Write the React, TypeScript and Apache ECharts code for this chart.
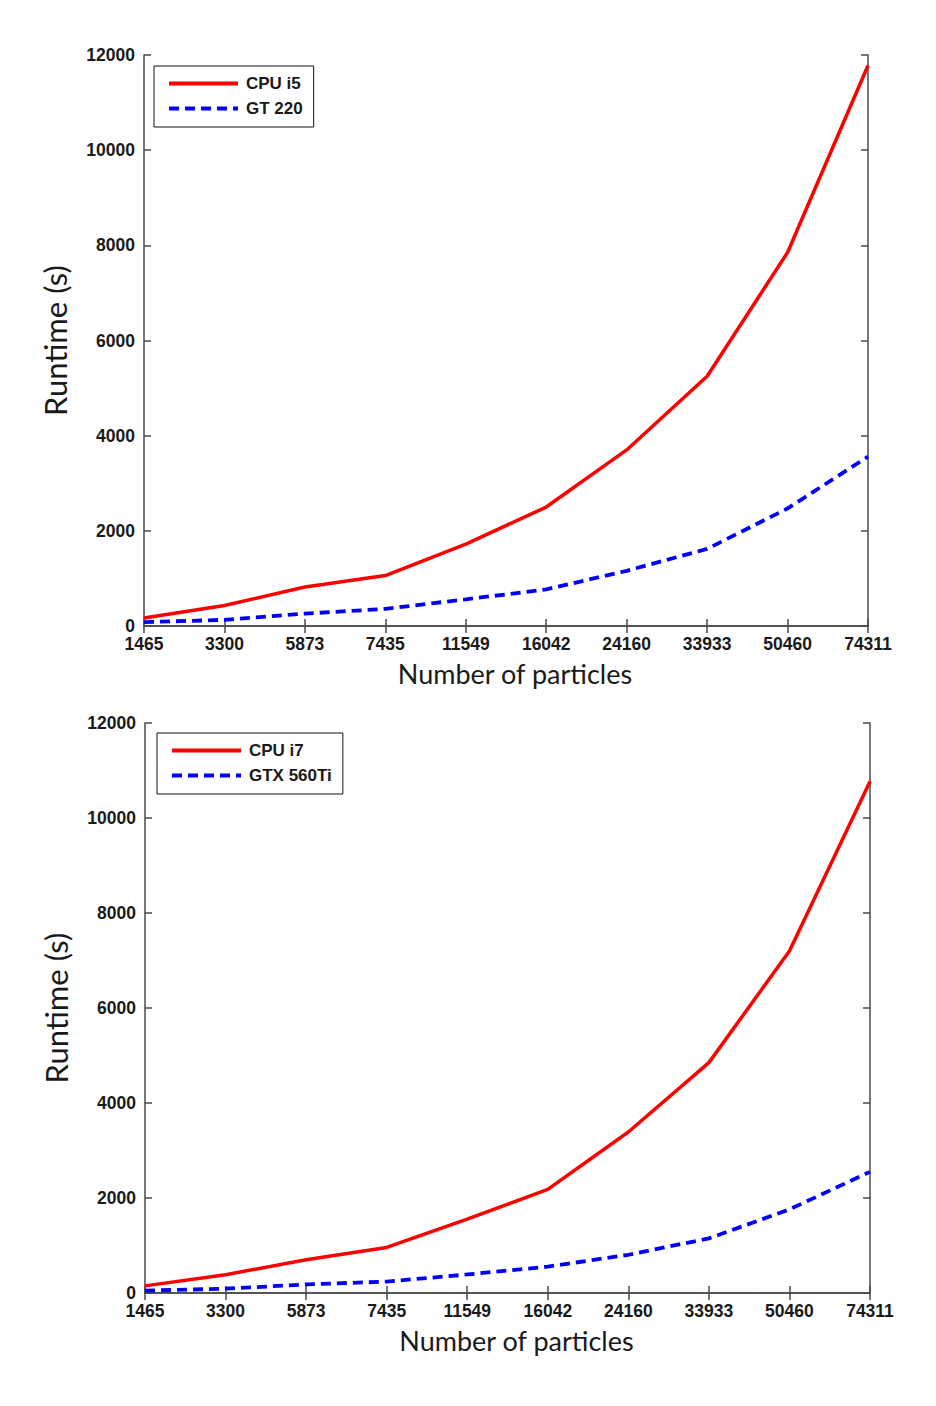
import React, { useEffect, useRef } from "react";
import * as echarts from "echarts";

// Particle counts along the horizontal axis (shared by both panels)
const particleCounts = ["1465", "3300", "5873", "7435", "11549", "16042", "24160", "33933", "50460", "74311"];

// Runtime in seconds, upper panel
const cpuI5Runtime = [170, 430, 820, 1060, 1720, 2500, 3700, 5250, 7850, 11780];
const gt220Runtime = [80, 130, 260, 360, 560, 770, 1160, 1620, 2470, 3560];

// Runtime in seconds, lower panel
const cpuI7Runtime = [150, 385, 700, 960, 1555, 2180, 3390, 4850, 7200, 10770];
const gtx560TiRuntime = [50, 90, 180, 240, 390, 555, 805, 1150, 1760, 2550];

// Runtime axis range
const runtimeMin = 0;
const runtimeMax = 12000;
const runtimeStep = 2000;

const AXIS_COLOR = "#4a4a4a";
const TICK_FONT = "'Liberation Sans', Arial, sans-serif";
const TITLE_FONT = "Lato, 'Open Sans', sans-serif";

const panels = [
  { top: 55, left: 144, width: 724, height: 571, legendTop: 66, legendLeft: 154, a: "CPU i5", b: "GT 220", aData: cpuI5Runtime, bData: gt220Runtime },
  { top: 723, left: 145, width: 725, height: 570, legendTop: 733, legendLeft: 157, a: "CPU i7", b: "GTX 560Ti", aData: cpuI7Runtime, bData: gtx560TiRuntime },
];

function buildOption() {
  const grid: any[] = [];
  const xAxis: any[] = [];
  const yAxis: any[] = [];
  const series: any[] = [];
  const legend: any[] = [];

  panels.forEach((p, i) => {
    grid.push({ left: p.left, top: p.top, width: p.width, height: p.height, containLabel: false });

    const lineStyle = { color: AXIS_COLOR, width: 1.5 };
    const tick = { show: true, inside: true, length: 7, lineStyle };

    // bottom axis with labels
    xAxis.push({
      type: "category",
      gridIndex: i,
      data: particleCounts,
      boundaryGap: false,
      position: "bottom",
      axisLine: { show: true, lineStyle },
      axisTick: tick,
      axisLabel: {
        show: true,
        margin: 9,
        color: "#1a1a1a",
        fontFamily: TICK_FONT,
        fontWeight: "bold",
        fontSize: 17.5,
        interval: 0,
      },
      splitLine: { show: false },
      name: "Number of particles",
      nameLocation: "middle",
      nameGap: 34,
      nameTextStyle: {
        fontFamily: TITLE_FONT,
        fontSize: 27,
        color: "#1a1a1a",
        padding: [0, 0, 0, 18],
      },
    });
    // top frame edge with ticks
    xAxis.push({
      type: "category",
      gridIndex: i,
      data: particleCounts,
      boundaryGap: false,
      position: "top",
      axisLine: { show: true, lineStyle },
      axisTick: tick,
      axisLabel: { show: false },
      splitLine: { show: false },
    });

    // left axis with labels
    yAxis.push({
      type: "value",
      gridIndex: i,
      min: runtimeMin,
      max: runtimeMax,
      interval: runtimeStep,
      position: "left",
      axisLine: { show: true, lineStyle },
      axisTick: tick,
      axisLabel: {
        show: true,
        margin: 9,
        color: "#1a1a1a",
        fontFamily: TICK_FONT,
        fontWeight: "bold",
        fontSize: 17.5,
        formatter: (v: number) => String(v),
      },
      splitLine: { show: false },
      name: "Runtime (s)",
      nameLocation: "middle",
      nameGap: 74,
      nameRotate: 90,
      nameTextStyle: {
        fontFamily: TITLE_FONT,
        fontSize: 31,
        color: "#1a1a1a",
      },
    });
    // right frame edge with ticks
    yAxis.push({
      type: "value",
      gridIndex: i,
      min: runtimeMin,
      max: runtimeMax,
      interval: runtimeStep,
      position: "right",
      axisLine: { show: true, lineStyle },
      axisTick: tick,
      axisLabel: { show: false },
      splitLine: { show: false },
    });

    series.push({
      name: p.a,
      type: "line",
      xAxisIndex: i * 2,
      yAxisIndex: i * 2,
      data: p.aData,
      symbol: "none",
      lineStyle: { color: "#ff0000", width: 3.5, type: "solid" },
      itemStyle: { color: "#ff0000" },
      z: 3,
    });
    series.push({
      name: p.b,
      type: "line",
      xAxisIndex: i * 2,
      yAxisIndex: i * 2,
      data: p.bData,
      symbol: "none",
      lineStyle: { color: "#0000ff", width: 3.8, type: [10, 6] },
      itemStyle: { color: "#0000ff" },
      z: 4,
    });

    legend.push({
      data: [p.a, p.b],
      orient: "vertical",
      left: p.legendLeft,
      top: p.legendTop,
      padding: [9, 11, 10, 13],
      itemWidth: 69,
      itemHeight: 14,
      itemGap: 8,
      backgroundColor: "#ffffff",
      borderColor: "#111111",
      borderWidth: 1,
      borderRadius: 0,
      selectedMode: false,
      // only the line sample is shown, no marker dot
      itemStyle: { opacity: 0 },
      lineStyle: { width: 4 },
      textStyle: {
        fontFamily: TICK_FONT,
        fontWeight: "bold",
        fontSize: 17,
        color: "#1a1a1a",
        padding: [0, 0, 0, 3],
      },
    });
  });

  return {
    animation: false,
    backgroundColor: "#ffffff",
    grid,
    xAxis,
    yAxis,
    series,
    legend,
  };
}

export default function App() {
  const ref = useRef<HTMLDivElement>(null);

  useEffect(() => {
    if (!ref.current) return;
    const chart = echarts.init(ref.current, undefined, { renderer: "svg" });
    chart.setOption(buildOption());
    return () => chart.dispose();
  }, []);

  return (
    <div
      ref={ref}
      style={{ position: "fixed", left: 0, top: 0, width: 936, height: 1406, background: "#fff" }}
    />
  );
}
